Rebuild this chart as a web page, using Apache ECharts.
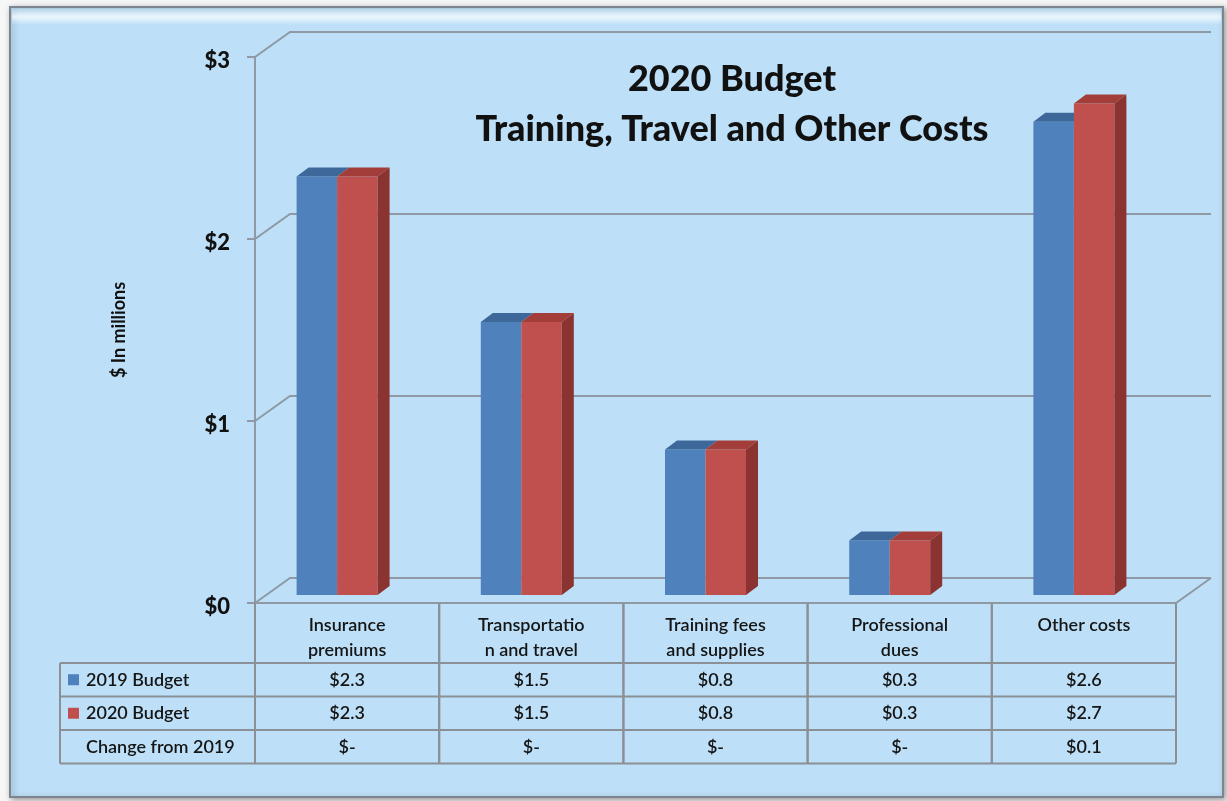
<!DOCTYPE html>
<html>
<head>
<meta charset="utf-8">
<script src="https://cdn.jsdelivr.net/npm/echarts@6/dist/echarts.min.js"></script>
<style>
html,body{margin:0;padding:0;background:#f6f6f6;}
#chart{width:1227px;height:801px;}
</style>
</head>
<body>
<div id="chart"></div>
<script>
// ---- data ----
const categories = ['Insurance\npremiums', 'Transportatio\nn and travel', 'Training fees\nand supplies', 'Professional\ndues', 'Other costs'];
const seriesNames = ['2019 Budget', '2020 Budget', 'Change from 2019'];
const budget2019 = [2.3, 1.5, 0.8, 0.3, 2.6];
const budget2020 = [2.3, 1.5, 0.8, 0.3, 2.7];
const changeFrom2019 = [0, 0, 0, 0, 0.1];
const yTicks = [0, 1, 2, 3];
const titleLines = ['2020 Budget', 'Training, Travel and Other Costs'];
const yAxisName = '$ In millions';

// ---- styling ----
const FONT = 'Lato';
const GRID_COLOR = '#8e99a4';
const TABLE_COLOR = '#8a9096';
const DEPTH_X = 35, DEPTH_Y = 25;      // wall depth
const BAR_DX = 12, BAR_DY = 9;         // bar depth
const BAR_LIFT = 8;                    // bars stand slightly behind front plane
const BLUE = {front: '#4f81bd', top: '#3d6899', side: '#365d8c'};
const RED = {front: '#c0504d', top: '#a33d39', side: '#8a3330'};

function fmt(v) { return '$' + v.toFixed(1); }
function fmtChange(v) { return v === 0 ? '$-' : '$' + v.toFixed(1); }

const chart = echarts.init(document.getElementById('chart'), null, {renderer: 'canvas'});

function wallsItem(params, api) {
  const v = api.value(1);
  const n = categories.length;
  const band = api.size([1, 0])[0];
  const p0 = api.coord([0, v]);
  const pN = api.coord([n - 1, v]);
  const xl = p0[0] - band / 2, xr = pN[0] + band / 2, y = p0[1];
  const st = {stroke: GRID_COLOR, lineWidth: 2, fill: null};
  const children = [{
    type: 'polyline', shape: {points: [[xl, y], [xl + DEPTH_X, y - DEPTH_Y], [xr + DEPTH_X, y - DEPTH_Y]]}, style: st
  }];
  if (v === 0) {
    children.push({type: 'polyline', shape: {points: [[xl, y], [xr, y], [xr + DEPTH_X, y - DEPTH_Y]]}, style: st});
  }
  return {type: 'group', children};
}

function barRenderer(col, off0, off1, withSide) {
  return function (params, api) {
    const i = api.value(0), v = api.value(1);
    const base = api.coord([i, 0]);
    const top = api.coord([i, v]);
    const c = base[0];
    const yb = base[1] - BAR_LIFT, yt = top[1] - BAR_LIFT;
    const xl = c + off0, xr = c + off1;
    const children = [
      {type: 'rect', shape: {x: xl, y: yt, width: xr - xl, height: yb - yt}, style: {fill: col.front}},
      {type: 'polygon', shape: {points: [[xl, yt], [xl + BAR_DX, yt - BAR_DY], [xr + BAR_DX, yt - BAR_DY], [xr, yt]]}, style: {fill: col.top}}
    ];
    if (withSide) {
      children.push({type: 'polygon', shape: {points: [[xr, yt], [xr + BAR_DX, yt - BAR_DY], [xr + BAR_DX, yb - BAR_DY], [xr, yb]]}, style: {fill: col.side}});
    }
    return {type: 'group', children};
  };
}

const HEADER_H = 60, ROW_H = 33.5, LEFT_COL_W = 195;

function tableItem(params, api) {
  const i = api.value(0);
  const band = api.size([1, 0])[0];
  const p = api.coord([i, 0]);
  const x0 = p[0] - band / 2, y0 = p[1];
  const lineSt = {stroke: TABLE_COLOR, lineWidth: 2, fill: null};
  const textSt = (text, x, y, extra) => Object.assign({
    text, x, y, fill: '#151515', fontFamily: FONT, fontWeight: 600, fontSize: 18, align: 'center', verticalAlign: 'middle'
  }, extra || {});
  const children = [];
  const totalH = HEADER_H + ROW_H * 3;
  children.push({type: 'line', shape: {x1: x0, y1: y0, x2: x0, y2: y0 + totalH}, style: lineSt});
  children.push({type: 'line', shape: {x1: x0 + band, y1: y0, x2: x0 + band, y2: y0 + totalH}, style: lineSt});
  [HEADER_H, HEADER_H + ROW_H, HEADER_H + 2 * ROW_H, totalH].forEach(h => {
    children.push({type: 'line', shape: {x1: x0, y1: y0 + h, x2: x0 + band, y2: y0 + h}, style: lineSt});
  });
  const cx = x0 + band / 2;
  children.push({type: 'text', style: textSt(categories[i], cx, y0 + 10, {verticalAlign: 'top', lineHeight: 25})});
  children.push({type: 'text', style: textSt(fmt(budget2019[i]), cx, y0 + HEADER_H + ROW_H / 2)});
  children.push({type: 'text', style: textSt(fmt(budget2020[i]), cx, y0 + HEADER_H + ROW_H * 1.5)});
  children.push({type: 'text', style: textSt(fmtChange(changeFrom2019[i]), cx, y0 + HEADER_H + ROW_H * 2.5)});
  if (i === 0) {
    const lx = x0 - LEFT_COL_W;
    [HEADER_H, HEADER_H + ROW_H, HEADER_H + 2 * ROW_H, totalH].forEach(h => {
      children.push({type: 'line', shape: {x1: lx, y1: y0 + h, x2: x0, y2: y0 + h}, style: lineSt});
    });
    children.push({type: 'line', shape: {x1: lx, y1: y0 + HEADER_H, x2: lx, y2: y0 + totalH}, style: lineSt});
    const sw = [BLUE.front, RED.front, null];
    seriesNames.forEach((nm, k) => {
      const cy = y0 + HEADER_H + ROW_H * (k + 0.5);
      if (sw[k]) children.push({type: 'rect', shape: {x: lx + 8, y: cy - 5.5, width: 11, height: 11}, style: {fill: sw[k]}});
      children.push({type: 'text', style: textSt(nm, lx + 26, cy, {align: 'left'})});
    });
  }
  return {type: 'group', children};
}

const option = {
  backgroundColor: '#f6f6f6',
  animation: false,
  graphic: [
    {type: 'rect', z: -10, shape: {x: 10, y: 7, width: 1213, height: 790},
     style: {fill: '#bde0f8', stroke: '#7d8690', lineWidth: 2, shadowBlur: 6, shadowColor: 'rgba(0,0,0,0.35)', shadowOffsetX: 2, shadowOffsetY: 2}},
    {type: 'rect', z: -9, shape: {x: 12, y: 9, width: 1209, height: 16},
     style: {fill: new echarts.graphic.LinearGradient(0, 0, 0, 1, [{offset: 0, color: 'rgba(255,255,255,0.15)'}, {offset: 0.5, color: 'rgba(255,255,255,0.7)'}, {offset: 1, color: 'rgba(255,255,255,0)'}])}}
  ],
  title: {
    text: titleLines.join('\n'),
    left: 727, top: 49, textAlign: 'center',
    textStyle: {fontFamily: FONT, fontWeight: 900, fontSize: 36, lineHeight: 50, color: '#111'}
  },
  grid: {left: 255, right: 51, top: 57, bottom: 198, containLabel: false},
  xAxis: {
    type: 'category', data: categories,
    axisLine: {show: false}, axisTick: {show: false}, axisLabel: {show: false}, splitLine: {show: false}
  },
  yAxis: {
    type: 'value', min: 0, max: 3, interval: 1,
    name: yAxisName, nameLocation: 'middle', nameRotate: 90, nameGap: 127,
    nameTextStyle: {fontFamily: FONT, fontWeight: 'bold', fontSize: 18, color: '#111'},
    axisLine: {show: true, lineStyle: {color: GRID_COLOR, width: 2}},
    axisTick: {show: true, length: 8, lineStyle: {color: GRID_COLOR, width: 2}},
    axisLabel: {
      formatter: v => '{a|$' + v + '}', margin: 25,
      rich: {a: {fontFamily: FONT, fontWeight: 900, fontSize: 22, color: '#111', padding: [8, 0, 0, 0]}}
    },
    splitLine: {show: false}
  },
  series: [
    {type: 'custom', name: 'walls', z: 1, clip: false, renderItem: wallsItem, data: yTicks.map(v => [0, v])},
    {type: 'custom', name: seriesNames[0], z: 2, clip: false, renderItem: barRenderer(BLUE, -50.5, -10, false), data: budget2019.map((v, i) => [i, v])},
    {type: 'custom', name: seriesNames[1], z: 3, clip: false, renderItem: barRenderer(RED, -10, 30.5, true), data: budget2020.map((v, i) => [i, v])},
    {type: 'custom', name: 'table', z: 4, clip: false, renderItem: tableItem, data: categories.map((c, i) => [i, 0])}
  ]
};
chart.setOption(option);
</script>
</body>
</html>
